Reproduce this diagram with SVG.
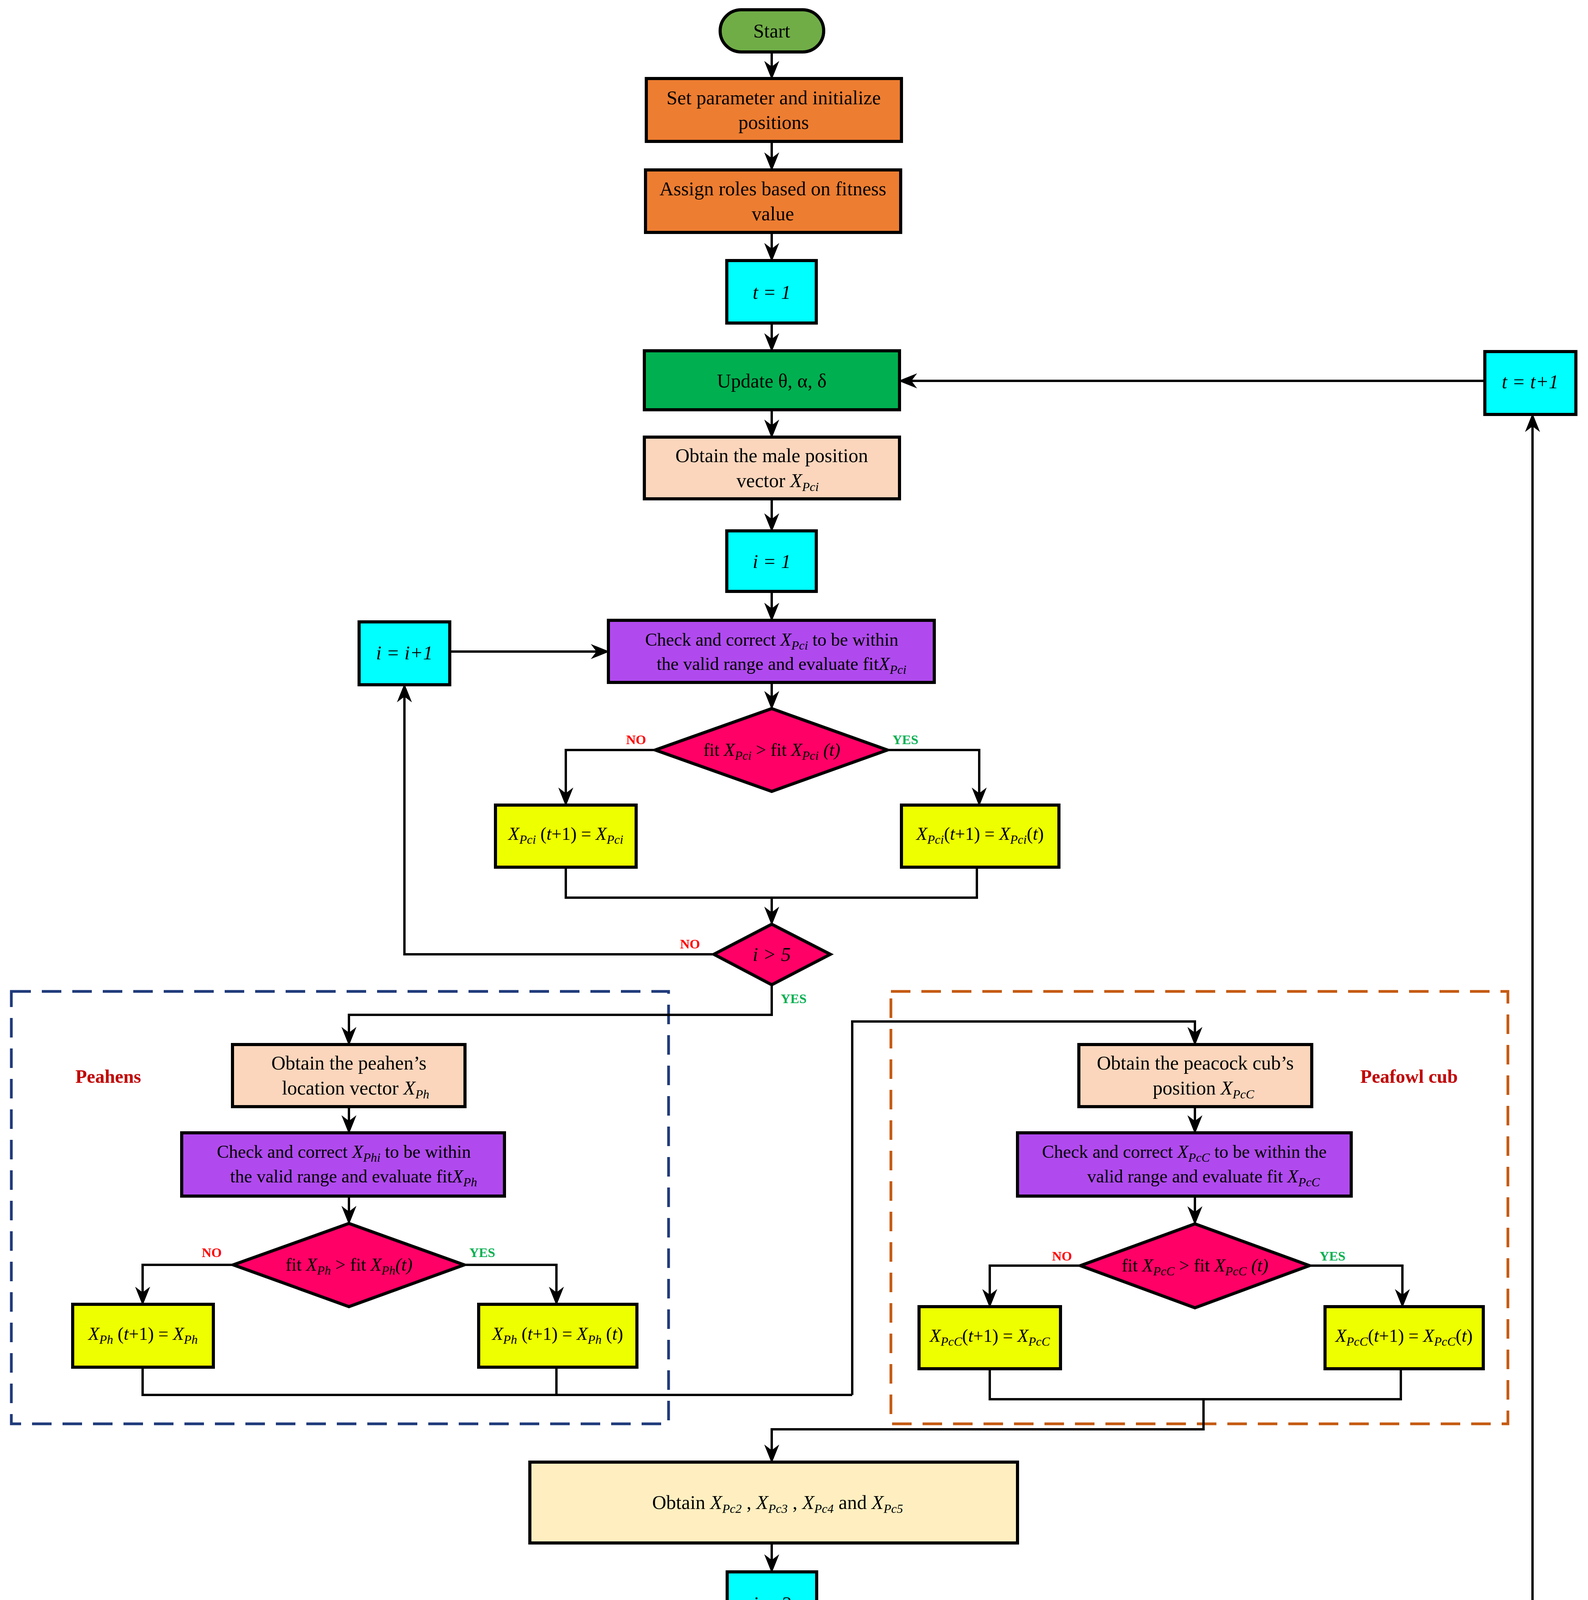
<svg xmlns="http://www.w3.org/2000/svg" width="4064" height="5609" viewBox="0 0 4064 5609">
<style>
text{font-family:"Liberation Serif","Times New Roman",serif;font-size:50px;fill:#000;text-anchor:middle}
.ck{font-size:46px}
.b{stroke:#000;stroke-width:8}
.i{font-style:italic}
.s{font-style:italic;font-size:32px}
.c{fill:none;stroke:#000;stroke-width:6}
.no{fill:#FF0000;font-weight:bold;font-size:34px}
.yes{fill:#00B050;font-weight:bold;font-size:34px}
.grp{fill:#C00000;font-weight:bold;font-size:48px}
</style>
<defs>
<marker id="a" markerWidth="8" markerHeight="8" refX="7.5" refY="4" orient="auto" markerUnits="strokeWidth"><path d="M0,0.8 L8,4 L0,7.2 L2.4,4 z" fill="#000"/></marker>
</defs>
<rect width="4064" height="5609" fill="#fff"/>
<rect x="29" y="2538" width="1682" height="1107" fill="none" stroke="#1F3A7A" stroke-width="7" stroke-dasharray="50,28"/>
<rect x="2280" y="2538" width="1579" height="1107" fill="none" stroke="#C55A11" stroke-width="7" stroke-dasharray="50,28"/>
<text class="grp" x="277" y="2772">Peahens</text>
<text class="grp" x="3606" y="2772">Peafowl cub</text>

<g id="connectors">
<path class="c" marker-end="url(#a)" d="M1975,133 V201"/>
<path class="c" marker-end="url(#a)" d="M1975,362 V435"/>
<path class="c" marker-end="url(#a)" d="M1975,595 V667"/>
<path class="c" marker-end="url(#a)" d="M1975,827 V898"/>
<path class="c" marker-end="url(#a)" d="M1975,1049 V1119"/>
<path class="c" marker-end="url(#a)" d="M1975,1277 V1359"/>
<path class="c" marker-end="url(#a)" d="M1975,1514 V1588"/>
<path class="c" marker-end="url(#a)" d="M1975,1747 V1814"/>
<path class="c" marker-end="url(#a)" d="M1677,1920 H1448 V2061"/>
<path class="c" marker-end="url(#a)" d="M2271,1920 H2506 V2061"/>
<path class="c" d="M1448,2220 V2298 H2500 V2220"/>
<path class="c" marker-end="url(#a)" d="M1975,2298 V2366"/>
<path class="c" marker-end="url(#a)" d="M1827,2443 H1035 V1753"/>
<path class="c" marker-end="url(#a)" d="M1151,1668 H1557"/>
<path class="c" marker-end="url(#a)" d="M1975,2521 V2598 H893 V2674"/>
<path class="c" marker-end="url(#a)" d="M893,2833 V2900"/>
<path class="c" marker-end="url(#a)" d="M893,3062 V3132"/>
<path class="c" marker-end="url(#a)" d="M597,3238 H365 V3339"/>
<path class="c" marker-end="url(#a)" d="M1188,3238 H1424 V3339"/>
<path class="c" d="M365,3500 V3571 H2181"/>
<path class="c" d="M1424,3500 V3571"/>
<path class="c" marker-end="url(#a)" d="M2181,3571 V2615 H3058 V2674"/>
<path class="c" marker-end="url(#a)" d="M3058,2833 V2900"/>
<path class="c" marker-end="url(#a)" d="M3058,3062 V3133"/>
<path class="c" marker-end="url(#a)" d="M2765,3240 H2533 V3345"/>
<path class="c" marker-end="url(#a)" d="M3351,3240 H3589 V3345"/>
<path class="c" d="M2533,3504 V3582 H3585 V3504"/>
<path class="c" marker-end="url(#a)" d="M3080,3582 V3659 H1975 V3743"/>
<path class="c" marker-end="url(#a)" d="M1975,3950 V4024"/>
<path class="c" marker-end="url(#a)" d="M1975,4185 V4258"/>
<path class="c" marker-end="url(#a)" d="M1975,4419 V4486"/>
<path class="c" marker-end="url(#a)" d="M1677,4593 H1448 V4716"/>
<path class="c" marker-end="url(#a)" d="M2271,4593 H2506 V4716"/>
<path class="c" d="M1448,4877 V4941 H2500 V4877"/>
<path class="c" marker-end="url(#a)" d="M1975,4941 V5010"/>
<path class="c" marker-end="url(#a)" d="M1830,5087 H1035 V4423"/>
<path class="c" marker-end="url(#a)" d="M1151,4338 H1559"/>
<path class="c" marker-end="url(#a)" d="M1975,5164 V5231"/>
<path class="c" marker-end="url(#a)" d="M2124,5311 H2651"/>
<path class="c" marker-end="url(#a)" d="M1975,5387 V5463"/>
<path class="c" marker-end="url(#a)" d="M3449,5311 H3922 V1061"/>
<path class="c" marker-end="url(#a)" d="M3800,975 H2302"/>
<text class="no" x="1628" y="1905">NO</text>
<text class="yes" x="2317" y="1905">YES</text>
<text class="no" x="1766" y="2428">NO</text>
<text class="yes" x="2031" y="2568">YES</text>
<text class="no" x="542" y="3218">NO</text>
<text class="yes" x="1234" y="3218">YES</text>
<text class="no" x="2718" y="3227">NO</text>
<text class="yes" x="3410" y="3227">YES</text>
<text class="no" x="1628" y="4578">NO</text>
<text class="yes" x="2317" y="4578">YES</text>
<text class="no" x="1770" y="5072">NO</text>
<text class="yes" x="2038" y="5212">YES</text>
<text class="no" x="2169" y="5288">NO</text>
<text class="yes" x="2047" y="5442">YES</text>
</g>

<g id="start"><rect class="b" x="1843" y="25" width="265" height="108" rx="54" fill="#70AD47"/><text x="1975" y="96">Start</text></g>
<g id="setparam"><rect class="b" x="1654" y="201" width="653" height="161" fill="#ED7D31"/><text x="1980" y="267">Set parameter and initialize</text><text x="1980" y="330">positions</text></g>
<g id="assign"><rect class="b" x="1652" y="435" width="653" height="160" fill="#ED7D31"/><text x="1978" y="500">Assign roles based on fitness</text><text x="1978" y="564">value</text></g>
<g id="t1"><rect class="b" x="1860" y="667" width="229" height="160" fill="#00FFFF"/><text x="1975" y="765" class="i">t = 1</text></g>
<g id="update"><rect class="b" x="1649" y="898" width="653" height="151" fill="#00B050"/><text x="1975" y="992">Update θ, α, δ</text></g>
<g id="male"><rect class="b" x="1649" y="1119" width="653" height="158" fill="#FBD6BC"/><text x="1975" y="1183">Obtain the male position</text><text x="1990" y="1247">vector  <tspan class="i">X</tspan><tspan class="s" dy="10">Pci</tspan></text></g>
<g id="i1"><rect class="b" x="1860" y="1359" width="229" height="155" fill="#00FFFF"/><text x="1975" y="1454" class="i">i = 1</text></g>
<g id="check1"><rect class="b" x="1557" y="1588" width="834" height="159" fill="#B04AEE"/><text class="ck" x="1975" y="1653">Check and correct  <tspan class="i">X</tspan><tspan class="s" dy="10">Pci</tspan><tspan dy="-10"> to be within</tspan></text><text class="ck" x="2000" y="1715">the valid range and evaluate fit<tspan class="i">X</tspan><tspan class="s" dy="10">Pci</tspan></text></g>
<g id="dec1"><polygon class="b" points="1975,1814 2271,1920 1975,2026 1677,1920" fill="#FF0066"/><text class="ck" x="1975" y="1935">fit <tspan class="i">X</tspan><tspan class="s" dy="10">Pci</tspan><tspan dy="-10">  &gt;  fit </tspan><tspan class="i">X</tspan><tspan class="s" dy="10">Pci</tspan><tspan dy="-10" class="i"> (t)</tspan></text></g>
<g id="y1l"><rect class="b" x="1268" y="2061" width="360" height="159" fill="#EEFF00"/><text class="ck" x="1448" y="2150"><tspan class="i">X</tspan><tspan class="s" dy="10">Pci</tspan><tspan dy="-10"> (</tspan><tspan class="i">t</tspan><tspan>+1) = </tspan><tspan class="i">X</tspan><tspan class="s" dy="10">Pci</tspan></text></g>
<g id="y1r"><rect class="b" x="2307" y="2061" width="403" height="159" fill="#EEFF00"/><text class="ck" x="2508" y="2150"><tspan class="i">X</tspan><tspan class="s" dy="10">Pci</tspan><tspan dy="-10">(</tspan><tspan class="i">t</tspan><tspan>+1) = </tspan><tspan class="i">X</tspan><tspan class="s" dy="10">Pci</tspan><tspan dy="-10">(</tspan><tspan class="i">t</tspan><tspan>)</tspan></text></g>
<g id="dec1b"><polygon class="b" points="1975,2366 2125,2443 1975,2521 1827,2443" fill="#FF0066"/><text x="1975" y="2460" class="i">i &gt; 5</text></g>
<g id="inc1"><rect class="b" x="919" y="1592" width="232" height="161" fill="#00FFFF"/><text x="1035" y="1688" class="i">i = i+1</text></g>

<g id="hen1"><rect class="b" x="595" y="2674" width="595" height="159" fill="#FBD6BC"/><text x="893" y="2738">Obtain the peahen’s</text><text x="910" y="2802">location vector  <tspan class="i">X</tspan><tspan class="s" dy="10">Ph</tspan></text></g>
<g id="hen2"><rect class="b" x="465" y="2900" width="826" height="162" fill="#B04AEE"/><text class="ck" x="880" y="2964">Check and correct  <tspan class="i">X</tspan><tspan class="s" dy="10">Phi</tspan><tspan dy="-10"> to be within</tspan></text><text class="ck" x="905" y="3027">the valid range and evaluate fit<tspan class="i">X</tspan><tspan class="s" dy="10">Ph</tspan></text></g>
<g id="hen3"><polygon class="b" points="893,3132 1188,3238 893,3345 597,3238" fill="#FF0066"/><text class="ck" x="893" y="3253">fit <tspan class="i">X</tspan><tspan class="s" dy="10">Ph</tspan><tspan dy="-10">   &gt;  fit </tspan><tspan class="i">X</tspan><tspan class="s" dy="10">Ph</tspan><tspan dy="-10" class="i">(t)</tspan></text></g>
<g id="hen4"><rect class="b" x="186" y="3339" width="360" height="161" fill="#EEFF00"/><text class="ck" x="366" y="3430"><tspan class="i">X</tspan><tspan class="s" dy="10">Ph</tspan><tspan dy="-10"> (</tspan><tspan class="i">t</tspan><tspan>+1) = </tspan><tspan class="i">X</tspan><tspan class="s" dy="10">Ph</tspan></text></g>
<g id="hen5"><rect class="b" x="1225" y="3339" width="405" height="161" fill="#EEFF00"/><text class="ck" x="1427" y="3430"><tspan class="i">X</tspan><tspan class="s" dy="10">Ph</tspan><tspan dy="-10"> (</tspan><tspan class="i">t</tspan><tspan>+1) = </tspan><tspan class="i">X</tspan><tspan class="s" dy="10">Ph</tspan><tspan dy="-10"> (</tspan><tspan class="i">t</tspan><tspan>)</tspan></text></g>

<g id="cub1"><rect class="b" x="2761" y="2674" width="596" height="159" fill="#FBD6BC"/><text x="3059" y="2738">Obtain the peacock cub’s</text><text x="3080" y="2802">position <tspan class="i">X</tspan><tspan class="s" dy="10">PcC</tspan></text></g>
<g id="cub2"><rect class="b" x="2604" y="2900" width="854" height="162" fill="#B04AEE"/><text class="ck" x="3031" y="2964">Check and correct  <tspan class="i">X</tspan><tspan class="s" dy="10">PcC</tspan><tspan dy="-10"> to be within the</tspan></text><text class="ck" x="3080" y="3027">valid range and evaluate fit  <tspan class="i">X</tspan><tspan class="s" dy="10">PcC</tspan></text></g>
<g id="cub3"><polygon class="b" points="3058,3133 3351,3240 3058,3348 2765,3240" fill="#FF0066"/><text class="ck" x="3058" y="3255">fit  <tspan class="i">X</tspan><tspan class="s" dy="10">PcC</tspan><tspan dy="-10"> &gt; fit  </tspan><tspan class="i">X</tspan><tspan class="s" dy="10">PcC</tspan><tspan dy="-10" class="i"> (t)</tspan></text></g>
<g id="cub4"><rect class="b" x="2352" y="3345" width="362" height="159" fill="#EEFF00"/><text class="ck" x="2533" y="3435"><tspan class="i">X</tspan><tspan class="s" dy="10">PcC</tspan><tspan dy="-10">(</tspan><tspan class="i">t</tspan><tspan>+1) = </tspan><tspan class="i">X</tspan><tspan class="s" dy="10">PcC</tspan></text></g>
<g id="cub5"><rect class="b" x="3391" y="3345" width="405" height="159" fill="#EEFF00"/><text class="ck" x="3593" y="3435"><tspan class="i">X</tspan><tspan class="s" dy="10">PcC</tspan><tspan dy="-10">(</tspan><tspan class="i">t</tspan><tspan>+1) = </tspan><tspan class="i">X</tspan><tspan class="s" dy="10">PcC</tspan><tspan dy="-10">(</tspan><tspan class="i">t</tspan><tspan>)</tspan></text></g>

<g id="obtainpc"><rect class="b" x="1356" y="3743" width="1248" height="207" fill="#FFEFC0"/><text x="1990" y="3863">Obtain <tspan class="i">X</tspan><tspan class="s" dy="10">Pc2</tspan><tspan dy="-10"> ,   </tspan><tspan class="i">X</tspan><tspan class="s" dy="10">Pc3</tspan><tspan dy="-10"> , </tspan><tspan class="i">X</tspan><tspan class="s" dy="10">Pc4</tspan><tspan dy="-10"> and </tspan><tspan class="i">X</tspan><tspan class="s" dy="10">Pc5</tspan></text></g>
<g id="i2"><rect class="b" x="1861" y="4024" width="229" height="161" fill="#00FFFF"/><text x="1975" y="4122" class="i">i = 2</text></g>
<g id="check2"><rect class="b" x="1559" y="4258" width="832" height="161" fill="#B04AEE"/><text class="ck" x="1975" y="4323">Check and correct  <tspan class="i">X</tspan><tspan class="s" dy="10">Pci</tspan><tspan dy="-10"> to be within</tspan></text><text class="ck" x="2000" y="4385">the valid range and evaluate fit<tspan class="i">X</tspan><tspan class="s" dy="10">Pci</tspan></text></g>
<g id="dec2"><polygon class="b" points="1975,4486 2271,4593 1975,4700 1677,4593" fill="#FF0066"/><text class="ck" x="1975" y="4608">fit  <tspan class="i">X</tspan><tspan class="s" dy="10">Pci</tspan><tspan dy="-10"> &gt; fit  </tspan><tspan class="i">X</tspan><tspan class="s" dy="10">Pci</tspan><tspan dy="-10" class="i"> (t)</tspan></text></g>
<g id="y2l"><rect class="b" x="1268" y="4716" width="360" height="161" fill="#EEFF00"/><text class="ck" x="1448" y="4806"><tspan class="i">X</tspan><tspan class="s" dy="10">Pci</tspan><tspan dy="-10"> (</tspan><tspan class="i">t</tspan><tspan>+1) = </tspan><tspan class="i">X</tspan><tspan class="s" dy="10">Pci</tspan></text></g>
<g id="y2r"><rect class="b" x="2307" y="4716" width="403" height="161" fill="#EEFF00"/><text class="ck" x="2508" y="4806"><tspan class="i">X</tspan><tspan class="s" dy="10">Pci</tspan><tspan dy="-10">(</tspan><tspan class="i">t</tspan><tspan>+1) = </tspan><tspan class="i">X</tspan><tspan class="s" dy="10">Pci</tspan><tspan dy="-10">(</tspan><tspan class="i">t</tspan><tspan>)</tspan></text></g>
<g id="dec2b"><polygon class="b" points="1975,5010 2124,5087 1975,5164 1830,5087" fill="#FF0066"/><text x="1975" y="5104" class="i">i &gt; 5</text></g>
<g id="inc2"><rect class="b" x="919" y="4262" width="232" height="161" fill="#00FFFF"/><text x="1035" y="4358" class="i">i = i+1</text></g>
<g id="tmax"><polygon class="b" points="1975,5231 2124,5311 1975,5387 1825,5311" fill="#FF0066"/><text x="1960" y="5326" class="i">t &gt; t<tspan font-size="34" dy="12">max</tspan></text></g>
<g id="reassign"><rect class="b" x="2651" y="5231" width="798" height="159" fill="#00B050"/><text x="3050" y="5328">Reassign roles based on fitness</text></g>
<g id="stop"><rect class="b" x="1845" y="5463" width="261" height="106" rx="53" fill="#70AD47"/><text x="1975" y="5533">stop</text></g>
<g id="tinc"><rect class="b" x="3800" y="900" width="233" height="161" fill="#00FFFF"/><text x="3916" y="994" class="i">t = t+1</text></g>
</svg>
